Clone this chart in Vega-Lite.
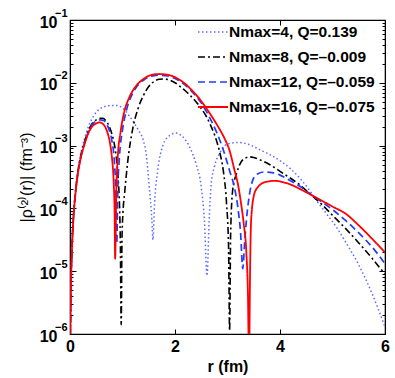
{
  "$schema": "https://vega.github.io/schema/vega-lite/v6.json",
  "width": 315,
  "height": 314,
  "autosize": "none",
  "padding": {"left": 70, "top": 20, "right": 10, "bottom": 44},
  "config": {
    "font": "Liberation Sans",
    "view": {"stroke": "black", "strokeWidth": 1.2},
    "axis": {"grid": false, "domainColor": "black", "tickColor": "black", "labelColor": "black", "titleColor": "black", "labelFont": "Liberation Sans", "titleFont": "Liberation Sans", "labelFontSize": 16, "labelFontWeight": "bold", "titleFontSize": 16, "titleFontWeight": "bold", "labelOverlap": false, "labelBound": false, "labelFlush": false}
  },
  "data": {"values": [
    {"n":"4","r":0.0,"v":3e-7},{"n":"4","r":0.01,"v":1.58e-6},{"n":"4","r":0.02,"v":6.31e-6},{"n":"4","r":0.04,"v":2.63e-5},{"n":"4","r":0.07,"v":8.51e-5},{"n":"4","r":0.10,"v":1.74e-4},{"n":"4","r":0.15,"v":3.98e-4},{"n":"4","r":0.20,"v":7.08e-4},{"n":"4","r":0.28,"v":1.32e-3},{"n":"4","r":0.35,"v":2.00e-3},{"n":"4","r":0.42,"v":2.69e-3},{"n":"4","r":0.50,"v":3.39e-3},{"n":"4","r":0.60,"v":3.98e-3},{"n":"4","r":0.70,"v":4.27e-3},{"n":"4","r":0.80,"v":4.37e-3},{"n":"4","r":0.89,"v":4.37e-3},{"n":"4","r":0.98,"v":4.07e-3},{"n":"4","r":1.06,"v":3.55e-3},{"n":"4","r":1.14,"v":2.88e-3},{"n":"4","r":1.22,"v":2.29e-3},{"n":"4","r":1.30,"v":1.78e-3},{"n":"4","r":1.39,"v":1.26e-3},{"n":"4","r":1.45,"v":7.41e-4},{"n":"4","r":1.51,"v":2.19e-4},{"n":"4","r":1.56,"v":6.46e-5},{"n":"4","r":1.58,"v":3.16e-5},{"n":"4","r":1.61,"v":1.17e-4},{"n":"4","r":1.67,"v":3.98e-4},{"n":"4","r":1.77,"v":1.00e-3},{"n":"4","r":1.90,"v":1.45e-3},{"n":"4","r":2.02,"v":1.58e-3},{"n":"4","r":2.12,"v":1.45e-3},{"n":"4","r":2.21,"v":1.20e-3},{"n":"4","r":2.30,"v":8.71e-4},{"n":"4","r":2.40,"v":5.13e-4},{"n":"4","r":2.50,"v":2.19e-4},{"n":"4","r":2.56,"v":6.46e-5},{"n":"4","r":2.61,"v":8.51e-6},{"n":"4","r":2.65,"v":6.31e-5},{"n":"4","r":2.69,"v":2.51e-4},{"n":"4","r":2.75,"v":4.57e-4},{"n":"4","r":2.88,"v":8.32e-4},{"n":"4","r":3.01,"v":1.07e-3},{"n":"4","r":3.20,"v":1.12e-3},{"n":"4","r":3.40,"v":1.05e-3},{"n":"4","r":3.60,"v":8.71e-4},{"n":"4","r":3.80,"v":7.24e-4},{"n":"4","r":4.00,"v":5.75e-4},{"n":"4","r":4.20,"v":4.27e-4},{"n":"4","r":4.40,"v":2.88e-4},{"n":"4","r":4.56,"v":1.95e-4},{"n":"4","r":4.69,"v":1.35e-4},{"n":"4","r":4.90,"v":7.94e-5},{"n":"4","r":5.10,"v":4.68e-5},{"n":"4","r":5.26,"v":2.82e-5},{"n":"4","r":5.50,"v":1.26e-5},{"n":"4","r":5.75,"v":4.47e-6},{"n":"4","r":6.00,"v":1.29e-6},

    {"n":"8","r":0.0,"v":3e-7},{"n":"8","r":0.01,"v":1.66e-6},{"n":"8","r":0.02,"v":6.61e-6},{"n":"8","r":0.04,"v":2.63e-5},{"n":"8","r":0.07,"v":8.32e-5},{"n":"8","r":0.10,"v":1.66e-4},{"n":"8","r":0.15,"v":3.80e-4},{"n":"8","r":0.20,"v":6.61e-4},{"n":"8","r":0.28,"v":1.17e-3},{"n":"8","r":0.35,"v":1.74e-3},{"n":"8","r":0.42,"v":2.24e-3},{"n":"8","r":0.50,"v":2.57e-3},{"n":"8","r":0.58,"v":2.72e-3},{"n":"8","r":0.625,"v":2.72e-3},{"n":"8","r":0.68,"v":2.51e-3},{"n":"8","r":0.74,"v":2.09e-3},{"n":"8","r":0.80,"v":1.51e-3},{"n":"8","r":0.85,"v":1.00e-3},{"n":"8","r":0.89,"v":5.62e-4},{"n":"8","r":0.92,"v":2.82e-4},{"n":"8","r":0.945,"v":1.00e-4},{"n":"8","r":0.96,"v":2.51e-5},{"n":"8","r":0.975,"v":1.41e-6},{"n":"8","r":0.99,"v":3.16e-5},{"n":"8","r":1.01,"v":8.91e-5},{"n":"8","r":1.04,"v":1.74e-4},{"n":"8","r":1.10,"v":5.62e-4},{"n":"8","r":1.20,"v":1.95e-3},{"n":"8","r":1.30,"v":3.98e-3},{"n":"8","r":1.40,"v":6.31e-3},{"n":"8","r":1.50,"v":8.71e-3},{"n":"8","r":1.60,"v":1.05e-2},{"n":"8","r":1.70,"v":1.14e-2},{"n":"8","r":1.80,"v":1.15e-2},{"n":"8","r":1.90,"v":1.10e-2},{"n":"8","r":2.00,"v":1.00e-2},{"n":"8","r":2.10,"v":8.71e-3},{"n":"8","r":2.20,"v":7.41e-3},{"n":"8","r":2.30,"v":6.17e-3},{"n":"8","r":2.40,"v":5.01e-3},{"n":"8","r":2.50,"v":3.89e-3},{"n":"8","r":2.60,"v":2.88e-3},{"n":"8","r":2.68,"v":2.09e-3},{"n":"8","r":2.75,"v":1.51e-3},{"n":"8","r":2.85,"v":7.94e-4},{"n":"8","r":2.92,"v":3.98e-4},{"n":"8","r":2.98,"v":1.26e-4},{"n":"8","r":3.02,"v":2.51e-5},{"n":"8","r":3.04,"v":1.12e-6},{"n":"8","r":3.06,"v":3.98e-5},{"n":"8","r":3.10,"v":2.00e-4},{"n":"8","r":3.17,"v":3.55e-4},{"n":"8","r":3.26,"v":5.50e-4},{"n":"8","r":3.34,"v":6.31e-4},{"n":"8","r":3.42,"v":6.61e-4},{"n":"8","r":3.50,"v":6.46e-4},{"n":"8","r":3.60,"v":6.03e-4},{"n":"8","r":3.80,"v":5.01e-4},{"n":"8","r":4.00,"v":3.89e-4},{"n":"8","r":4.20,"v":3.02e-4},{"n":"8","r":4.40,"v":2.29e-4},{"n":"8","r":4.56,"v":1.74e-4},{"n":"8","r":4.80,"v":1.15e-4},{"n":"8","r":5.00,"v":7.76e-5},{"n":"8","r":5.26,"v":4.68e-5},{"n":"8","r":5.50,"v":2.82e-5},{"n":"8","r":5.75,"v":1.62e-5},{"n":"8","r":6.00,"v":8.91e-6},

    {"n":"12","r":0.0,"v":3e-7},{"n":"12","r":0.01,"v":1.62e-6},{"n":"12","r":0.02,"v":6.46e-6},{"n":"12","r":0.04,"v":2.57e-5},{"n":"12","r":0.07,"v":8.13e-5},{"n":"12","r":0.10,"v":1.62e-4},{"n":"12","r":0.15,"v":3.72e-4},{"n":"12","r":0.20,"v":6.31e-4},{"n":"12","r":0.28,"v":1.12e-3},{"n":"12","r":0.35,"v":1.66e-3},{"n":"12","r":0.42,"v":2.14e-3},{"n":"12","r":0.50,"v":2.45e-3},{"n":"12","r":0.58,"v":2.57e-3},{"n":"12","r":0.64,"v":2.51e-3},{"n":"12","r":0.70,"v":2.19e-3},{"n":"12","r":0.75,"v":1.74e-3},{"n":"12","r":0.80,"v":1.17e-3},{"n":"12","r":0.84,"v":6.31e-4},{"n":"12","r":0.87,"v":2.00e-4},{"n":"12","r":0.89,"v":2.75e-5},{"n":"12","r":0.91,"v":2.00e-4},{"n":"12","r":0.94,"v":6.31e-4},{"n":"12","r":1.00,"v":1.78e-3},{"n":"12","r":1.08,"v":3.80e-3},{"n":"12","r":1.20,"v":6.92e-3},{"n":"12","r":1.30,"v":9.33e-3},{"n":"12","r":1.40,"v":1.10e-2},{"n":"12","r":1.50,"v":1.23e-2},{"n":"12","r":1.60,"v":1.30e-2},{"n":"12","r":1.70,"v":1.32e-2},{"n":"12","r":1.80,"v":1.30e-2},{"n":"12","r":1.90,"v":1.26e-2},{"n":"12","r":2.00,"v":1.17e-2},{"n":"12","r":2.10,"v":1.05e-2},{"n":"12","r":2.20,"v":9.12e-3},{"n":"12","r":2.30,"v":7.59e-3},{"n":"12","r":2.40,"v":6.17e-3},{"n":"12","r":2.50,"v":4.79e-3},{"n":"12","r":2.60,"v":3.47e-3},{"n":"12","r":2.70,"v":2.40e-3},{"n":"12","r":2.80,"v":1.58e-3},{"n":"12","r":2.90,"v":9.55e-4},{"n":"12","r":2.97,"v":6.31e-4},{"n":"12","r":3.04,"v":3.98e-4},{"n":"12","r":3.13,"v":2.19e-4},{"n":"12","r":3.20,"v":1.00e-4},{"n":"12","r":3.25,"v":3.98e-5},{"n":"12","r":3.29,"v":1.10e-5},{"n":"12","r":3.33,"v":3.16e-5},{"n":"12","r":3.36,"v":6.46e-5},{"n":"12","r":3.42,"v":1.70e-4},{"n":"12","r":3.51,"v":3.16e-4},{"n":"12","r":3.60,"v":3.63e-4},{"n":"12","r":3.70,"v":3.80e-4},{"n":"12","r":3.85,"v":3.72e-4},{"n":"12","r":4.00,"v":3.39e-4},{"n":"12","r":4.20,"v":2.75e-4},{"n":"12","r":4.40,"v":2.19e-4},{"n":"12","r":4.56,"v":1.74e-4},{"n":"12","r":4.80,"v":1.26e-4},{"n":"12","r":5.00,"v":9.55e-5},{"n":"12","r":5.26,"v":6.31e-5},{"n":"12","r":5.50,"v":4.07e-5},{"n":"12","r":5.75,"v":2.45e-5},{"n":"12","r":6.00,"v":1.32e-5},

    {"n":"16","r":0.0,"v":3e-7},{"n":"16","r":0.01,"v":1.58e-6},{"n":"16","r":0.02,"v":6.31e-6},{"n":"16","r":0.04,"v":2.51e-5},{"n":"16","r":0.07,"v":7.94e-5},{"n":"16","r":0.10,"v":1.58e-4},{"n":"16","r":0.15,"v":3.55e-4},{"n":"16","r":0.20,"v":6.03e-4},{"n":"16","r":0.28,"v":1.07e-3},{"n":"16","r":0.35,"v":1.58e-3},{"n":"16","r":0.42,"v":2.00e-3},{"n":"16","r":0.50,"v":2.26e-3},{"n":"16","r":0.56,"v":2.34e-3},{"n":"16","r":0.62,"v":2.24e-3},{"n":"16","r":0.68,"v":1.91e-3},{"n":"16","r":0.72,"v":1.55e-3},{"n":"16","r":0.76,"v":1.12e-3},{"n":"16","r":0.80,"v":6.31e-4},{"n":"16","r":0.83,"v":2.82e-4},{"n":"16","r":0.85,"v":7.94e-5},{"n":"16","r":0.86,"v":1.58e-5},{"n":"16","r":0.88,"v":1.58e-4},{"n":"16","r":0.91,"v":6.61e-4},{"n":"16","r":0.96,"v":1.58e-3},{"n":"16","r":1.04,"v":3.63e-3},{"n":"16","r":1.12,"v":5.62e-3},{"n":"16","r":1.20,"v":7.59e-3},{"n":"16","r":1.30,"v":9.77e-3},{"n":"16","r":1.40,"v":1.15e-2},{"n":"16","r":1.50,"v":1.29e-2},{"n":"16","r":1.60,"v":1.36e-2},{"n":"16","r":1.70,"v":1.38e-2},{"n":"16","r":1.80,"v":1.36e-2},{"n":"16","r":1.90,"v":1.32e-2},{"n":"16","r":2.00,"v":1.23e-2},{"n":"16","r":2.10,"v":1.10e-2},{"n":"16","r":2.20,"v":9.55e-3},{"n":"16","r":2.30,"v":7.94e-3},{"n":"16","r":2.40,"v":6.46e-3},{"n":"16","r":2.47,"v":5.50e-3},{"n":"16","r":2.60,"v":3.89e-3},{"n":"16","r":2.75,"v":2.51e-3},{"n":"16","r":2.85,"v":1.82e-3},{"n":"16","r":2.94,"v":1.32e-3},{"n":"16","r":3.04,"v":8.32e-4},{"n":"16","r":3.13,"v":4.17e-4},{"n":"16","r":3.20,"v":2.40e-4},{"n":"16","r":3.26,"v":1.17e-4},{"n":"16","r":3.31,"v":5.62e-5},{"n":"16","r":3.36,"v":1.91e-5},{"n":"16","r":3.39,"v":3.98e-6},{"n":"16","r":3.41,"v":3.16e-7},{"n":"16","r":3.43,"v":1.00e-5},{"n":"16","r":3.45,"v":6.46e-5},{"n":"16","r":3.51,"v":1.70e-4},{"n":"16","r":3.58,"v":2.19e-4},{"n":"16","r":3.64,"v":2.45e-4},{"n":"16","r":3.75,"v":2.66e-4},{"n":"16","r":3.90,"v":2.75e-4},{"n":"16","r":4.05,"v":2.63e-4},{"n":"16","r":4.20,"v":2.40e-4},{"n":"16","r":4.40,"v":2.00e-4},{"n":"16","r":4.56,"v":1.70e-4},{"n":"16","r":4.80,"v":1.32e-4},{"n":"16","r":5.00,"v":1.07e-4},{"n":"16","r":5.26,"v":8.13e-5},{"n":"16","r":5.50,"v":5.37e-5},{"n":"16","r":5.75,"v":3.31e-5},{"n":"16","r":6.00,"v":2.00e-5}
  ]},
  "layer": [
    {
      "mark": {"type": "line", "clip": true, "interpolate": "monotone"},
      "encoding": {
        "x": {"field": "r", "type": "quantitative", "scale": {"domain": [0, 6], "nice": false, "zero": false},
              "axis": {"orient": "bottom", "values": [0, 2, 4, 6], "format": "d", "tickSize": -5, "labelPadding": 9, "title": "r (fm)", "titlePadding": 4}},
        "y": {"field": "v", "type": "quantitative", "scale": {"type": "log", "domain": [1e-6, 0.1], "nice": false},
              "axis": {"orient": "left",
                       "values": [1e-6,2e-6,3e-6,4e-6,5e-6,6e-6,7e-6,8e-6,9e-6,1e-5,2e-5,3e-5,4e-5,5e-5,6e-5,7e-5,8e-5,9e-5,1e-4,2e-4,3e-4,4e-4,5e-4,6e-4,7e-4,8e-4,9e-4,1e-3,2e-3,3e-3,4e-3,5e-3,6e-3,7e-3,8e-3,9e-3,1e-2,2e-2,3e-2,4e-2,5e-2,6e-2,7e-2,8e-2,9e-2,1e-1],
                       "labelExpr": "abs(log(datum.value)/LN10 - round(log(datum.value)/LN10)) < 0.001 ? '10' : ''",
                       "tickSize": {"condition": {"test": "abs(log(datum.value)/LN10 - round(log(datum.value)/LN10)) < 0.001", "value": -6}, "value": -3},
                       "labelPadding": 19, "labelOffset": 2,
                       "title": "|ρ⁽²⁾(r)| (fm⁻³)", "titleFontWeight": "normal", "titlePadding": 5}},
        "color": {"field": "n", "type": "nominal",
                  "scale": {"domain": ["4", "8", "12", "16"], "range": ["#5a6cff", "#000000", "#1f3cff", "#ff0000"]},
                  "legend": {"title": null, "orient": "none", "legendX": 127, "legendY": -4, "padding": 0,
                             "labelExpr": "{'4': 'Nmax=4, Q=0.139', '8': 'Nmax=8, Q=–0.009', '12': 'Nmax=12, Q=–0.059', '16': 'Nmax=16, Q=–0.075'}[datum.label]",
                             "labelFont": "Liberation Sans", "labelFontSize": 15.5, "labelFontWeight": "bold", "labelColor": "black",
                             "symbolType": "stroke", "symbolSize": 900, "symbolStrokeWidth": 2, "rowPadding": -12.5, "labelOffset": 0}},
        "strokeDash": {"field": "n", "type": "nominal",
                       "scale": {"domain": ["4", "8", "12", "16"], "range": [[1.5, 2.5], [7, 3, 2, 3], [7, 4], [1, 0]]},
                       "legend": {"title": null, "orient": "none", "legendX": 127, "legendY": -4, "padding": 0,
                             "labelExpr": "{'4': 'Nmax=4, Q=0.139', '8': 'Nmax=8, Q=–0.009', '12': 'Nmax=12, Q=–0.059', '16': 'Nmax=16, Q=–0.075'}[datum.label]",
                             "labelFont": "Liberation Sans", "labelFontSize": 15.5, "labelFontWeight": "bold", "labelColor": "black",
                             "symbolType": "stroke", "symbolSize": 900, "symbolStrokeWidth": 2, "rowPadding": -12.5, "labelOffset": 0}},
        "strokeWidth": {"field": "n", "type": "nominal",
                        "scale": {"domain": ["4", "8", "12", "16"], "range": [1.5, 1.8, 2.2, 2]}, "legend": null}
      }
    },
    {
      "mark": {"type": "line", "opacity": 0},
      "encoding": {
        "x": {"field": "r", "type": "quantitative", "axis": {"orient": "top", "values": [0, 2, 4, 6], "tickSize": -5, "labels": false, "title": null}},
        "y": {"field": "v", "type": "quantitative",
              "axis": {"orient": "right", "title": null, "labels": false,
                       "values": [1e-6,2e-6,3e-6,4e-6,5e-6,6e-6,7e-6,8e-6,9e-6,1e-5,2e-5,3e-5,4e-5,5e-5,6e-5,7e-5,8e-5,9e-5,1e-4,2e-4,3e-4,4e-4,5e-4,6e-4,7e-4,8e-4,9e-4,1e-3,2e-3,3e-3,4e-3,5e-3,6e-3,7e-3,8e-3,9e-3,1e-2,2e-2,3e-2,4e-2,5e-2,6e-2,7e-2,8e-2,9e-2,1e-1],
                       "tickSize": {"condition": {"test": "abs(log(datum.value)/LN10 - round(log(datum.value)/LN10)) < 0.001", "value": -6}, "value": -3}}},
        "detail": {"field": "n"}
      }
    },
    {
      "mark": {"type": "line", "opacity": 0},
      "encoding": {
        "y": {"field": "v", "type": "quantitative",
              "axis": {"orient": "left", "title": null, "ticks": false, "domain": false,
                       "values": [1e-6, 1e-5, 1e-4, 1e-3, 1e-2, 1e-1],
                       "labelExpr": "'−' + round(-log(datum.value)/LN10)",
                       "labelFontSize": 11, "labelPadding": 3, "labelOffset": -7}},
        "x": {"field": "r", "type": "quantitative", "axis": null},
        "detail": {"field": "n"}
      }
    }
  ],
  "resolve": {"axis": {"x": "independent", "y": "independent"}}
}
